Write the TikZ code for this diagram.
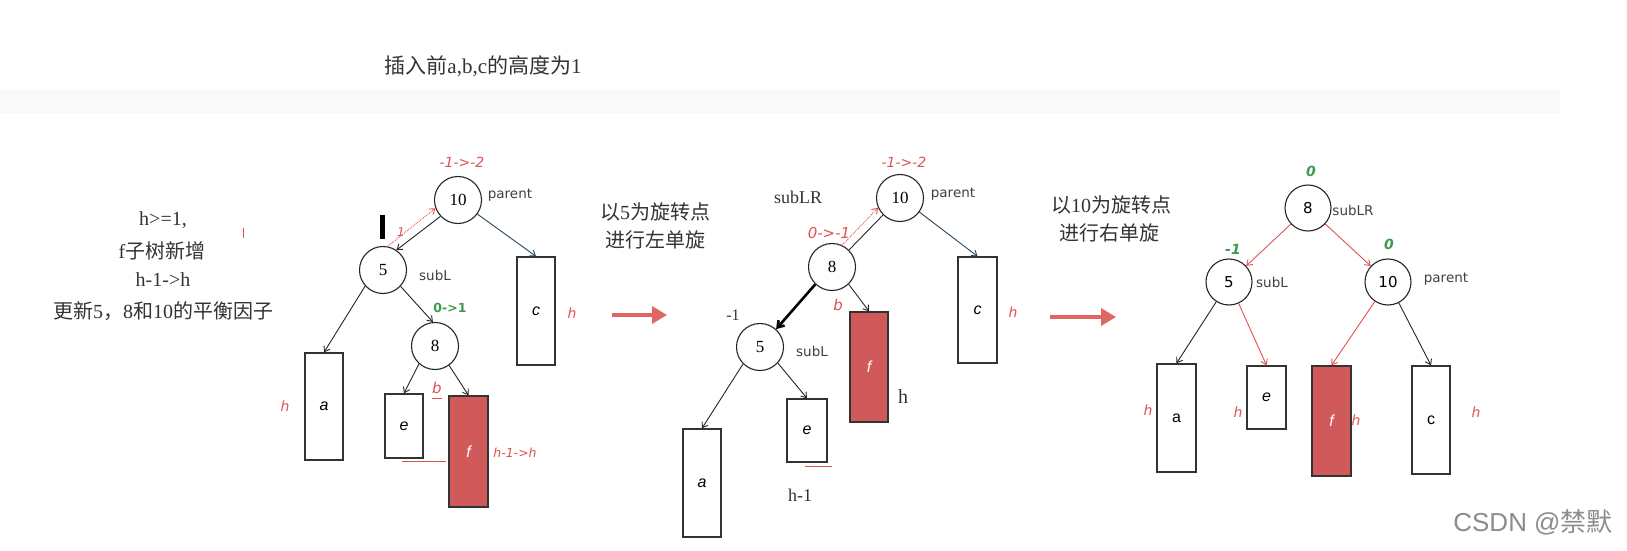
\documentclass[tikz,border=0pt]{standalone}
\usepackage{fontspec}
\setmainfont{Liberation Serif}
\setsansfont{DejaVu Sans}
\newfontfamily\cjk{Noto Sans CJK SC}
\newfontfamily\lsans{Liberation Sans}
\usetikzlibrary{arrows.meta}
\definecolor{rtxt}{HTML}{E05252}
\definecolor{rfill}{HTML}{D05A5A}
\definecolor{gtxt}{HTML}{3E9A4E}
\definecolor{darkteal}{HTML}{25475E}
\definecolor{shaft}{HTML}{E06666}
\definecolor{ink}{HTML}{333333}
\begin{document}
\begin{tikzpicture}[x=1pt,y=-1pt,
  circ/.style={circle,draw=black!85,line width=1.1pt,minimum size=47pt,inner sep=0pt,font=\fontsize{17}{17}\selectfont},
  scirc/.style={circ,minimum size=46pt,font=\sffamily\fontsize{15}{15}\selectfont},
  box/.style={draw=black!80,line width=1.4pt,inner sep=0pt,font=\lsans\itshape\fontsize{16}{16}\selectfont},
  ubox/.style={box,font=\lsans\fontsize{16}{16}\selectfont},
  rbox/.style={box,fill=rfill,text=white},
  arr/.style={-{Straight Barb[length=5pt,width=7pt]},line width=0.9pt,draw=black!85},
  rarr/.style={arr,draw=rtxt},
  dotarr/.style={arr,draw=rtxt,densely dotted},
  bigarr/.style={-{Triangle[length=15pt,width=17pt]},line width=3.5pt,draw=shaft},
  lbl/.style={font=\sffamily\fontsize{13.5}{14}\selectfont,text=black!75},
  rh/.style={font=\sffamily\itshape\fontsize{14}{14}\selectfont,text=rtxt},
  rlab/.style={font=\sffamily\itshape\fontsize{14}{14}\selectfont,text=rtxt},
  gb/.style={font=\sffamily\bfseries\fontsize{12.5}{13}\selectfont,text=gtxt},
  gl/.style={font=\sffamily\bfseries\itshape\fontsize{14}{14}\selectfont,text=gtxt},
  cn/.style={font=\fontsize{20}{22}\selectfont,text=ink},
  sr/.style={font=\fontsize{18}{18}\selectfont,text=ink}
]
\useasboundingbox (0,0) rectangle (1627,551);
\fill[white] (0,0) rectangle (1627,551);
\fill[black!2.5] (0,90) rectangle (1560,113);

% title and left text
\node[font=\fontsize{21}{24}\selectfont,text=ink] (title) at (483,66) {{\cjk 插入前}a,b,c{\cjk 的高度为}1};
\node[cn] (t1) at (163,220) {h>=1,};
\node[cn] (t2) at (162,251) {f{\cjk 子树新增}};
\node[cn] (t3) at (163,280) {h-1->h};
\node[cn] (t4) at (163,311) {{\cjk 更新}5{\cjk ，}8{\cjk 和}10{\cjk 的平衡因子}};
\coordinate (tk1) at (243,228); \coordinate (tk2) at (243,238);
\draw[rtxt,line width=0.7pt] (tk1) -- (tk2);

% ---------- diagram 1 ----------
\node[circ] (p1) at (458,200) {10};
\node[lbl] (p1l) at (510,195) {parent};
\node[rlab] (p1b) at (462,162) {-1->-2};
\node[circ] (s1) at (383,270) {5};
\node[lbl] (s1l) at (435,275) {subL};
\node[circ] (r1) at (435,346) {8};
\node[gb] (r1b) at (450,308) {0->1};
\node[box,minimum width=38pt,minimum height=107pt] (a1) at (324,406.5) {a};
\node[box,minimum width=38pt,minimum height=64pt] (e1) at (404,426) {e};
\node[rbox,minimum width=39pt,minimum height=111pt] (f1) at (468.5,451.5) {f};
\node[box,minimum width=38pt,minimum height=108pt] (c1) at (536,311) {c};
\node[rh] (ha1) at (285,406) {h};
\node[rh] (hc1) at (572,313) {h};
\node[rh,font=\sffamily\itshape\fontsize{12.5}{13}\selectfont] (hf1) at (515,453) {h-1->h};
\node[rh,font=\sffamily\itshape\fontsize{15}{15}\selectfont] (b1) at (437,388) {b};
\coordinate (ub1s) at (432,398); \coordinate (ub1e) at (442,398);
\draw[rtxt,line width=0.8pt] (ub1s) -- (ub1e);
\node[rh,font=\sffamily\itshape\fontsize{12}{12}\selectfont] (one1) at (401,232) {1};
\coordinate (bar1s) at (382,215); \coordinate (bar1e) at (382,239);
\draw[line width=5pt] (bar1s) -- (bar1e);
\coordinate (ul1s) at (402,461); \coordinate (ul1e) at (446,461);
\draw[rtxt,line width=1pt] (ul1s) -- (ul1e);

\draw[arr] (p1.-137) -- (s1.56);
\draw[dotarr] (s1.79) -- (p1.-160);
\draw[arr,draw=darkteal] (p1.-36) -- (c1.north);
\draw[arr] (s1.-138) -- (a1.north);
\draw[arr] (s1.-43) -- (r1.95);
\draw[arr] (r1.-132) -- (e1.north);
\draw[arr] (r1.-54) -- (f1.north);

% arrow 1 and text
\coordinate (A1s) at (612,315); \coordinate (A1e) at (667,315);
\draw[bigarr] (A1s) -- (A1e);
\node[cn] (x1) at (655,212) {{\cjk 以}5{\cjk 为旋转点}};
\node[cn] (x2) at (655,240) {\cjk 进行左单旋};

% ---------- diagram 2 ----------
\node[circ] (p2) at (900,198) {10};
\node[lbl] (p2l) at (953,194) {parent};
\node[rlab] (p2b) at (904,162) {-1->-2};
\node[sr] (lr2) at (798,197) {subLR};
\node[circ] (r2) at (832,267) {8};
\node[rlab,font=\sffamily\itshape\fontsize{15}{15}\selectfont] (r2b) at (829,233) {0->-1};
\node[circ] (s2) at (760,347) {5};
\node[lbl] (s2l) at (812,351) {subL};
\node[font=\fontsize{16}{16}\selectfont,text=ink] (s2b) at (733,315) {-1};
\node[box,minimum width=38pt,minimum height=108pt] (a2) at (702,483) {a};
\node[box,minimum width=40pt,minimum height=63pt] (e2) at (807,430.5) {e};
\node[rbox,minimum width=38pt,minimum height=110pt] (f2) at (869,367) {f};
\node[box,minimum width=39pt,minimum height=106pt] (c2) at (977.5,310) {c};
\node[rh] (hc2) at (1013,312) {h};
\node[font=\fontsize{20}{20}\selectfont,text=ink] (hf2) at (903,397) {h};
\node[sr] (he2) at (800,495) {h-1};
\node[rh,font=\sffamily\itshape\fontsize{15}{15}\selectfont] (b2) at (838,305) {b};
\coordinate (ul2s) at (805,466); \coordinate (ul2e) at (832,466);
\draw[rtxt,line width=1pt] (ul2s) -- (ul2e);

\draw[line width=0.9pt,black!85] (p2.-135) -- (r2.45);
\draw[dotarr] (r2.65) -- (p2.-156);
\draw[line width=2.6pt,-{Straight Barb[length=6pt,width=8pt]}] (r2.-134) -- (s2.48);
\draw[arr] (r2.-46) -- (f2.north);
\draw[arr,draw=darkteal] (p2.-36) -- (c2.north);
\draw[arr] (s2.-135) -- (a2.north);
\draw[arr] (s2.-42) -- (e2.north);

% arrow 2 and text
\coordinate (A2s) at (1050,317); \coordinate (A2e) at (1116,317);
\draw[bigarr] (A2s) -- (A2e);
\node[cn] (y1) at (1111,205) {{\cjk 以}10{\cjk 为旋转点}};
\node[cn] (y2) at (1109,233) {\cjk 进行右单旋};

% ---------- diagram 3 ----------
\node[scirc] (r3) at (1308,208) {8};
\node[lbl] (r3l) at (1353,210) {subLR};
\node[gl] (r3b) at (1311,171) {0};
\node[scirc] (s3) at (1229,282) {5};
\node[lbl] (s3l) at (1272,282) {subL};
\node[gl] (s3b) at (1233,249) {-1};
\node[scirc] (p3) at (1388,282) {10};
\node[lbl] (p3l) at (1446,279) {parent};
\node[gl] (p3b) at (1389,244) {0};
\node[ubox,minimum width=39pt,minimum height=108pt] (a3) at (1176.5,418) {a};
\node[box,minimum width=39pt,minimum height=63pt] (e3) at (1266.5,397.5) {e};
\node[rbox,minimum width=39pt,minimum height=110pt] (f3) at (1331.5,421) {f};
\node[ubox,minimum width=38pt,minimum height=108pt] (c3) at (1431,420) {c};
\node[rh] (ha3) at (1148,410) {h};
\node[rh] (he3) at (1238,412) {h};
\node[rh] (hf3) at (1356,420) {h};
\node[rh] (hc3) at (1476,412) {h};

\draw[rarr] (r3) -- (s3);
\draw[rarr] (r3) -- (p3);
\draw[arr] (s3) -- (a3.north);
\draw[rarr] (s3) -- (e3.north);
\draw[rarr] (p3) -- (f3.north);
\draw[arr] (p3) -- (c3.north);

% watermark
\node[font=\lsans\fontsize{26}{26}\selectfont,text=black!45] (wm) at (1533,522) {CSDN @{\cjk 禁默}};
\end{tikzpicture}
\end{document}
